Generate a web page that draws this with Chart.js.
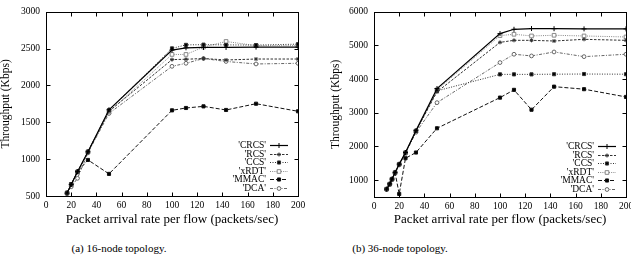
<!DOCTYPE html>
<html><head><meta charset="utf-8">
<script src="https://cdn.jsdelivr.net/npm/chart.js@4/dist/chart.umd.min.js"></script>
<style>
html,body{margin:0;padding:0;background:#fff;}
body{width:631px;height:262px;overflow:hidden;position:relative;}
.box{position:absolute;top:0;height:226px;}
.cap{position:absolute;top:242px;font:11px/12px "Liberation Serif",serif;color:#000;white-space:nowrap;transform:translateX(-50%);}
</style></head><body>
<div class="box" style="left:0;width:316px"><canvas id="c1"></canvas></div>
<div class="box" style="left:330px;width:320px"><canvas id="c2"></canvas></div>
<div class="cap" style="left:119px">(a) 16-node topology.</div>
<div class="cap" style="left:400px">(b) 36-node topology.</div>
<script>
// ---- data ----
const seriesNames = ["'CRCS'", "'RCS'", "'CCS'", "'xRDT'", "'MMAC'", "'DCA'"];
const xTicks = [0, 20, 40, 60, 80, 100, 120, 140, 160, 180, 200];
const yTicks16 = [500, 1000, 1500, 2000, 2500, 3000];
const yTicks36 = [1000, 2000, 3000, 4000, 5000, 6000];

// (a) 16-node topology
const rate16 = [16.7, 20, 25, 33.3, 50, 100, 111.1, 125, 142.9, 166.7, 200];
const crcs16 = [540, 655, 830, 1100, 1670, 2480, 2510, 2515, 2515, 2520, 2520];
const rcs16  = [540, 650, 825, 1100, 1650, 2350, 2355, 2365, 2345, 2358, 2358];
const ccs16  = [540, 660, 830, 1100, 1665, 2502, 2550, 2553, 2550, 2547, 2560];
const xrdt16 = [540, 655, 825, 1100, 1640, 2420, 2420, 2520, 2596, 2540, 2540];
const mmac16 = [545, 660, 830, 989, 800, 1662, 1694, 1716, 1667, 1752, 1649];
const dca16  = [530, 625, 740, 1085, 1620, 2259, 2300, 2365, 2325, 2291, 2300];

// (b) 36-node topology
const rate36 = [10, 12.5, 14.3, 16.7, 20, 25, 33.3, 50, 100, 111.1, 125, 142.9, 166.7, 200];
const crcs36 = [735, 890, 1035, 1230, 1476, 1820, 2470, 3720, 5350, 5478, 5500, 5495, 5490, 5490];
const rcs36  = [730, 880, 1030, 1225, 1470, 1815, 2455, 3620, 5090, 5150, 5150, 5130, 5180, 5150];
const ccs36  = [735, 885, 1030, 1225, 1470, 1820, 2460, 3650, 4140, 4140, 4140, 4145, 4150, 4145];
const xrdt36 = [735, 885, 1030, 1225, 1470, 1815, 2460, 3680, 5290, 5330, 5280, 5300, 5280, 5250];
const mmac36 = [730, 880, 1030, 1225, 590, 1650, 1820, 2540, 3450, 3680, 3090, 3775, 3700, 3470];
const dca36  = [720, 870, 1010, 1200, 1450, 1790, 2420, 3300, 4490, 4737, 4687, 4805, 4666, 4737];

// ---- styles ----
const FONT = '"Liberation Serif", "Times New Roman", serif';
Chart.defaults.font.family = FONT;
Chart.defaults.color = '#000';
const styles = [
  {color:'#000', dash:[], point:'cross', fill:'#000', width:1.2, radius:2.5},
  {color:'#333', dash:[2.5,1.5], point:'star', fill:'#333', width:1, radius:2},
  {color:'#333', dash:[1,1.5], point:'rect', fill:'#000', width:1, radius:2.2},
  {color:'#888', dash:[1,1.2], point:'rect', fill:'#fff', width:1, radius:2.6},
  {color:'#111', dash:[4,2], point:'rect', fill:'#000', width:1, radius:2.2},
  {color:'#666', dash:[3,1.5,1,1.5], point:'circle', fill:'#fff', width:1, radius:1.9}
];

function drawMarker(ctx, st, x, y) {
  ctx.setLineDash([]);
  ctx.fillStyle = st.fill; ctx.strokeStyle = st.color; ctx.lineWidth = 1;
  if (Chart.helpers && Chart.helpers.drawPoint) {
    Chart.helpers.drawPoint(ctx, {pointStyle: st.point, radius: st.radius, borderWidth: 1, rotation: 0}, x, y);
  }
}

const framePlugin = {
  id: 'frame',
  afterDraw(chart) {
    const {ctx, chartArea: a, scales: {x, y}} = chart;
    ctx.save();
    ctx.strokeStyle = '#000'; ctx.lineWidth = 1; ctx.setLineDash([]);
    const L = Math.round(a.left) + 0.5, T = Math.round(a.top) + 0.5;
    const R = Math.round(a.right) + 0.5, B = Math.round(a.bottom) + 0.5;
    ctx.strokeRect(L, T, R - L, B - T);
    ctx.beginPath();
    x.ticks.forEach(t => {
      const px = Math.round(x.getPixelForValue(t.value)) + 0.5;
      ctx.moveTo(px, B); ctx.lineTo(px, B - 4);
      ctx.moveTo(px, T); ctx.lineTo(px, T + 4);
    });
    y.ticks.forEach(t => {
      const py = Math.round(y.getPixelForValue(t.value)) + 0.5;
      ctx.moveTo(L, py); ctx.lineTo(L + 4, py);
      ctx.moveTo(R, py); ctx.lineTo(R - 4, py);
    });
    ctx.stroke();
    // legend (gnuplot style: text right-aligned, sample to the right)
    ctx.font = '9.5px ' + FONT;
    ctx.textAlign = 'right'; ctx.textBaseline = 'middle';
    chart.data.datasets.forEach((ds, i) => {
      const st = styles[i];
      const yy = Math.round(a.bottom - 51 + i * 8.5) + 0.5;
      ctx.fillStyle = '#000';
      ctx.fillText(ds.label, a.right - 32, yy);
      ctx.beginPath();
      ctx.strokeStyle = st.color; ctx.lineWidth = st.width; ctx.setLineDash(st.dash);
      ctx.moveTo(a.right - 28, yy); ctx.lineTo(a.right - 10, yy);
      ctx.stroke();
      drawMarker(ctx, st, a.right - 19, yy);
    });
    ctx.restore();
  }
};

function build(id, rates, series, yMin, yMax, yTicks, yW, padR, top, xH) {
  return new Chart(document.getElementById(id), {
    type: 'line',
    data: {
      datasets: series.map((vals, i) => {
        const st = styles[i];
        return {
          label: seriesNames[i],
          data: rates.map((r, j) => ({x: r, y: vals[j]})),
          borderColor: st.color, borderWidth: st.width, borderDash: st.dash,
          pointStyle: st.point, pointRadius: st.radius,
          pointBackgroundColor: st.fill, pointBorderColor: st.color, pointBorderWidth: 1,
          tension: 0, fill: false
        };
      })
    },
    options: {
      responsive: true, maintainAspectRatio: false, animation: false, devicePixelRatio: 1,
      events: [],
      layout: {padding: {top: top, right: padR, left: 0, bottom: 0}},
      plugins: {legend: {display: false}, tooltip: {enabled: false}},
      scales: {
        x: {
          type: 'linear', min: 0, max: 200,
          afterBuildTicks: s => { s.ticks = xTicks.map(v => ({value: v})); },
          afterFit: s => { s.height = xH; },
          ticks: {font: {size: 9.5}, color: '#000', padding: 4, maxRotation: 0, autoSkip: false,
                  callback: v => String(v)},
          grid: {display: false, drawTicks: false}, border: {display: false},
          title: {display: true, text: 'Packet arrival rate per flow (packets/sec)', color: '#000',
                  font: {size: 13, lineHeight: 1}, padding: {top: 0, bottom: 0}}
        },
        y: {
          type: 'linear', min: yMin, max: yMax,
          afterBuildTicks: s => { s.ticks = yTicks.map(v => ({value: v})); },
          afterFit: s => { s.width = yW; },
          ticks: {font: {size: 9.5}, color: '#000', padding: 6, autoSkip: false,
                  callback: v => String(v)},
          grid: {display: false, drawTicks: false}, border: {display: false},
          title: {display: true, text: 'Throughput (Kbps)', color: '#000',
                  font: {size: 11.5, lineHeight: 1}, padding: {top: 0, bottom: 0}}
        }
      }
    },
    plugins: [framePlugin]
  });
}

build('c1', rate16, [crcs16, rcs16, ccs16, xrdt16, mmac16, dca16], 500, 3000, yTicks16, 46, 18, 11, 30);
build('c2', rate36, [crcs36, rcs36, ccs36, xrdt36, mmac36, dca36], 500, 6000, yTicks36, 44, 24, 11, 29);
</script>
</body></html>
